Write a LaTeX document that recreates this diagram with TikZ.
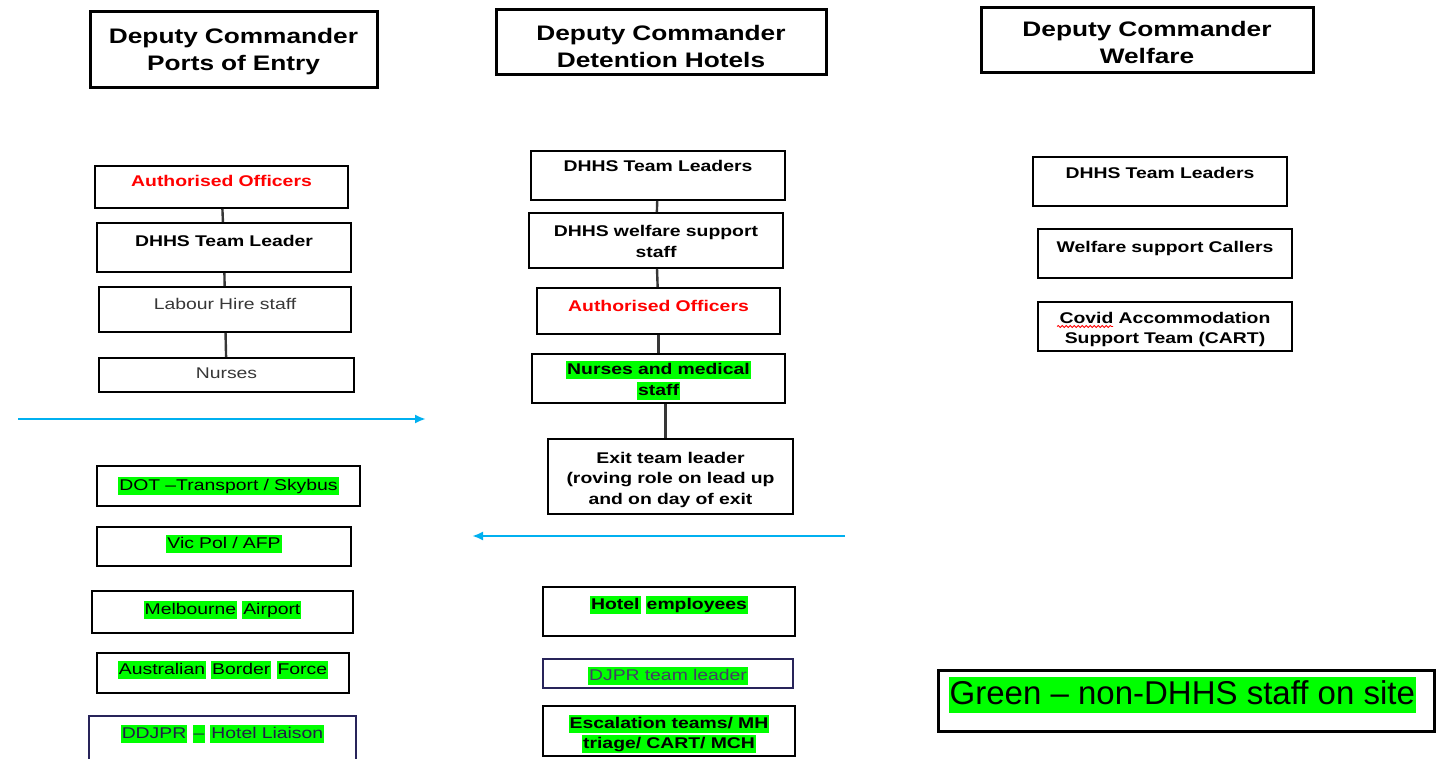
\documentclass[tikz,border=0pt]{standalone}
\usepackage{fontspec}
\setmainfont[FakeStretch=1.25]{Liberation Sans}
\newfontfamily\legendfont{Liberation Sans}
\usepackage{tikz}
\usetikzlibrary{calc, positioning, arrows.meta, decorations.pathmorphing}
\definecolor{hlgreen}{RGB}{0,255,0}
\definecolor{arrowblue}{RGB}{0,176,240}
\definecolor{navyline}{RGB}{40,36,90}
\definecolor{softgray}{RGB}{55,55,55}
\newcommand{\hlg}[1]{{\setlength{\fboxsep}{1pt}\colorbox{hlgreen}{\rule[-0.22em]{0pt}{1.02em}#1}}}
\tikzstyle{box}=[draw, line width=1.6pt, rectangle, inner sep=0pt]
\tikzstyle{navybox}=[draw=navyline, line width=1.3pt, rectangle, inner sep=0pt]
\tikzstyle{headbox}=[draw, line width=3pt, rectangle, inner sep=0pt]
\tikzstyle{txt}=[inner sep=0pt, anchor=base, text width=240pt, align=center, font=\fontsize{15.5}{20.5}\selectfont\bfseries]
\tikzstyle{lighttxt}=[txt, font=\fontsize{15.5}{20.5}\selectfont\mdseries]
\tikzstyle{headtxt}=[txt, text width=320pt, font=\fontsize{21}{27}\selectfont\bfseries]
\tikzstyle{link}=[draw=softgray, line width=2.4pt]
\tikzstyle{flow}=[draw=arrowblue, line width=2.4pt, -{Latex[length=11pt,width=9pt]}]

\begin{document}
\begin{tikzpicture}[x=1pt, y=-1pt]

	\clip (0,0) rectangle (1439,759);

	%deputy commander headers
	\node[headbox, minimum width=287pt, minimum height=76pt] (h1) at (233.5,50) {};
	\node[headtxt] (h1t) at ([yshift=-33.5pt]h1.north) {Deputy Commander\\Ports of Entry};
	\node[headbox, minimum width=330pt, minimum height=65pt] (h2) at (661,42.5) {};
	\node[headtxt] (h2t) at ([yshift=-32.5pt]h2.north) {Deputy Commander\\Detention Hotels};
	\node[headbox, minimum width=332pt, minimum height=65pt] (h3) at (1147,40.5) {};
	\node[headtxt] (h3t) at ([yshift=-30.5pt]h3.north) {Deputy Commander\\Welfare};

	%ports of entry, upper chain
	\node[box, minimum width=253pt, minimum height=42pt] (ao1) at (221.5,187) {};
	\node[txt, text=red] (ao1t) at ([yshift=-21.5pt]ao1.north) {Authorised Officers};
	\node[box, minimum width=254pt, minimum height=49pt] (tl1) at (224,247.5) {};
	\node[txt] (tl1t) at ([yshift=-24.5pt]tl1.north) {DHHS Team Leader};
	\node[box, minimum width=252pt, minimum height=45pt] (lh1) at (225,309.5) {};
	\node[lighttxt, text=softgray] (lh1t) at ([yshift=-23.5pt]lh1.north) {Labour Hire staff};
	\node[box, minimum width=255pt, minimum height=34pt] (nu1) at (226.5,375) {};
	\node[lighttxt, text=softgray] (nu1t) at ([yshift=-21.5pt]nu1.north) {Nurses};

	\draw[link] (ao1) -- (tl1);
	\draw[link] (tl1) -- (lh1);
	\draw[link] (lh1) -- (nu1);

	%ports of entry, on site partners
	\node[box, minimum width=263pt, minimum height=40pt] (dot1) at (228.5,486) {};
	\node[lighttxt] (dot1t) at ([yshift=-25pt]dot1.north) {\hlg{DOT –Transport / Skybus}};
	\node[box, minimum width=254pt, minimum height=39pt] (vic1) at (224,546.5) {};
	\node[lighttxt] (vic1t) at ([yshift=-22pt]vic1.north) {\hlg{Vic Pol / AFP}};
	\node[box, minimum width=261pt, minimum height=42pt] (mel1) at (222.5,612) {};
	\node[lighttxt] (mel1t) at ([yshift=-24pt]mel1.north) {\hlg{Melbourne} \hlg{Airport}};
	\node[box, minimum width=252pt, minimum height=40pt] (abf1) at (223,673) {};
	\node[lighttxt] (abf1t) at ([yshift=-22pt]abf1.north) {\hlg{Australian} \hlg{Border} \hlg{Force}};
	\node[navybox, minimum width=267pt, minimum height=60pt] (ddj1) at (222.5,746) {};
	\node[lighttxt, text=navyline!80!black] (ddj1t) at ([yshift=-23pt]ddj1.north) {\hlg{DDJPR} \hlg{–} \hlg{Hotel Liaison}};

	%detention hotels chain
	\node[box, minimum width=254pt, minimum height=49pt] (tl2) at (658,175.5) {};
	\node[txt] (tl2t) at ([yshift=-21.5pt]tl2.north) {DHHS Team Leaders};
	\node[box, minimum width=254pt, minimum height=55pt] (ws2) at (656,240.5) {};
	\node[txt] (ws2t) at ([yshift=-24.5pt]ws2.north) {DHHS welfare support\\staff};
	\node[box, minimum width=243pt, minimum height=46pt] (ao2) at (658.5,311) {};
	\node[txt, text=red] (ao2t) at ([yshift=-24pt]ao2.north) {Authorised Officers};
	\node[box, minimum width=253pt, minimum height=49pt] (nm2) at (658.5,378.5) {};
	\node[txt] (nm2t) at ([yshift=-21.5pt]nm2.north) {\hlg{Nurses and medical}\\\hlg{staff}};
	\node[box, minimum width=245pt, minimum height=75pt] (ex2) at (670.5,476.5) {};
	\node[txt] (ex2t) at ([yshift=-25pt]ex2.north) {Exit team leader\\(roving role on lead up\\and on day of exit};

	\draw[link] (tl2) -- (ws2);
	\draw[link] (ws2) -- (ao2);
	\draw[link] (ao2) -- (nm2);
	\draw[link] ([xshift=7pt]nm2.south) -- ([xshift=7pt]nm2.south |- ex2.north);

	%detention hotels, on site partners
	\node[box, minimum width=252pt, minimum height=49pt] (he2) at (669,611.5) {};
	\node[txt] (he2t) at ([yshift=-23pt]he2.north) {\hlg{Hotel} \hlg{employees}};
	\node[navybox, minimum width=250pt, minimum height=29pt] (dj2) at (668,673.5) {};
	\node[lighttxt, text=navyline!70!gray] (dj2t) at ([yshift=-22.5pt]dj2.north) {\hlg{DJPR team leader}};
	\node[box, minimum width=252pt, minimum height=50pt] (es2) at (669,731) {};
	\node[txt] (es2t) at ([yshift=-23pt]es2.north) {\hlg{Escalation teams/ MH}\\\hlg{triage/ CART/ MCH}};

	%welfare column
	\node[box, minimum width=254pt, minimum height=49pt] (tl3) at (1160,181.5) {};
	\node[txt] (tl3t) at ([yshift=-22pt]tl3.north) {DHHS Team Leaders};
	\node[box, minimum width=254pt, minimum height=49pt] (wc3) at (1165,253.5) {};
	\node[txt] (wc3t) at ([yshift=-24pt]wc3.north) {Welfare support Callers};
	\node[box, minimum width=254pt, minimum height=49pt] (cv3) at (1165,326.5) {};
	\node[txt] (cv3t) at ([yshift=-22pt]cv3.north) {Covid Accommodation\\Support Team (CART)};
	\draw[red, line width=0.8pt, decorate, decoration={snake, amplitude=1pt, segment length=4pt}] (1057,326.5) -- (1113,326.5);

	%blue arrows between zones
	\coordinate (inS) at (18,419);
	\coordinate (inE) at (426,419);
	\draw[flow] (inS) -- (inE);
	\coordinate (outS) at (845,536);
	\coordinate (outE) at (472,536);
	\draw[flow] (outS) -- (outE);

	%legend
	\node[headbox, minimum width=496pt, minimum height=61pt] (lg) at (1186,700.5) {};
	\node[anchor=base west, inner sep=0pt, font=\legendfont\fontsize{33}{38}\selectfont] (lgt) at ([xshift=12pt,yshift=-36pt]lg.north west) {\hlg{Green – non-DHHS staff on site}};

\end{tikzpicture}
\end{document}
